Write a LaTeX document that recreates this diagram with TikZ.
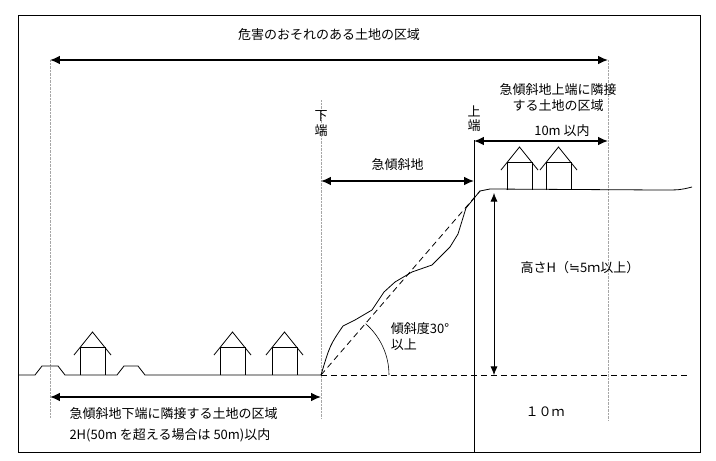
\documentclass[tikz,border=0pt]{standalone}
\usepackage{fontspec}
\newfontfamily\cjk{Noto Sans CJK JP}
\newfontfamily\symf{DejaVu Sans}
\usetikzlibrary{arrows.meta}
\tikzset{
    every node/.style={font=\cjk\fontsize{13}{16}\selectfont},
    dim/.style={very thick, {Latex[length=3.5mm,width=3mm]}-{Latex[length=3.5mm,width=3mm]}},
    guide/.style={densely dotted, gray!70},
    ground/.style={thick},
    longdash/.style={thick, dash pattern=on 6pt off 4pt}
}
\newcommand{\house}[2]{% left x, base y
  \draw[thick] (#1,#2) -- (#1,#2-28) -- (#1+25,#2-28) -- (#1+25,#2);
  \draw[thick] (#1-6,#2-20) -- (#1+12.5,#2-43) -- (#1+31,#2-20);
}
\begin{document}
\begin{tikzpicture}[x=1pt,y=-1pt]
    \useasboundingbox (0,0) rectangle (716,461);
    \draw[thick] (18,15) rectangle (700,452);
    % Guides
    \coordinate (g1t) at (50,60);   \coordinate (g1b) at (50,418);
    \coordinate (g2t) at (321,100); \coordinate (g2b) at (321,418);
    \coordinate (g3t) at (608,60);  \coordinate (g3b) at (608,420);
    \draw[guide] (g1t) -- (g1b);
    \draw[guide] (g2t) -- (g2b);
    \draw[guide] (g3t) -- (g3b);
    \draw[thick] (474,140) -- (474,452);
    % Ground
    \coordinate (toe) at (321,375);
    \coordinate (crest) at (480,191);
    \draw[ground] (18,375) -- (35,375) -- (42,366) -- (58,366) -- (65,375) -- (117,375)
      -- (124,366) -- (138,366) -- (145,375) -- (toe);
    \draw[ground] (toe) .. controls (330,345) .. (343,326) -- (355,320) -- (372,310)
      -- (384,292) -- (395,282) -- (412,272) -- (432,265) -- (450,247) -- (458,234)
      -- (466,208) -- (crest) -- (490,189) -- (660,190) .. controls (680,190) .. (692,187);
    \draw[longdash] (toe) -- (crest);
    \draw[longdash] (toe) -- (688,375);
    \draw[semithick] (389,375) arc[start angle=0, end angle=-49, radius=68];
    % Houses
    \house{80}{375} \house{220}{375} \house{272}{375}
    \house{507}{190} \house{546}{190}
    % Dimensions
    \draw[dim] (g1t) -- (g3t) node[midway, above=15pt] (all) {危害のおそれのある土地の区域};
    \draw[dim] (321,181) -- (474,181) node[midway, above=6pt] (steep) {急傾斜地};
    \draw[dim] (474,141) -- (608,141);
    \draw[dim] (50,397) -- (321,397);
    \draw[thick, {Latex[length=3mm,width=2.5mm]}-{Latex[length=3mm,width=2.5mm]}] (494,193) -- (494,375);
    % Labels
    \node[inner sep=0pt] (lo) at (321,124) {\shortstack{下\\端}};
    \node[inner sep=0pt] (up) at (474,119) {\shortstack{上\\端}};
    \node[align=center] (upz) at (558,98) {急傾斜地上端に隣接\\する土地の区域};
    \node (ten) at (562,131) {10m 以内};
    \node (hh) at (580,268) {高さH（{\symf ≒}5ｍ以上）};
    \node[align=left] (ang) at (420,337) {傾斜度30°\\以上};
    \node[anchor=west] (lowz) at (66,414) {急傾斜地下端に隣接する土地の区域};
    \node[anchor=west] (lowz2) at (66,435) {2H(50m を超える場合は 50m)以内};
    \node (tenb) at (545,412) {１０ｍ};
\end{tikzpicture}
\end{document}
